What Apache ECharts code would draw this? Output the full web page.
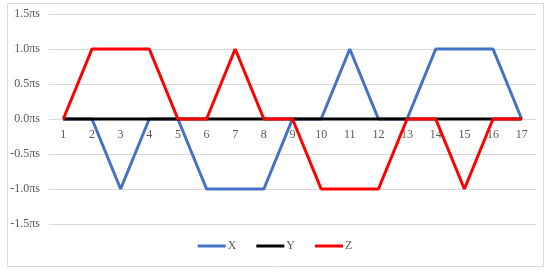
<!DOCTYPE html>
<html>
<head>
<meta charset="utf-8">
<script src="https://cdn.jsdelivr.net/npm/echarts@6/dist/echarts.min.js"></script>
<style>html,body{margin:0;padding:0;background:#fff;}#c{width:550px;height:273px;}</style>
</head>
<body>
<div id="c"></div>
<script>
const categories = ['1','2','3','4','5','6','7','8','9','10','11','12','13','14','15','16','17'];
const seriesX = [0,0,-1,0,0,-1,-1,-1,0,0,1,0,0,1,1,1,0];
const seriesY = [0,0,0,0,0,0,0,0,0,0,0,0,0,0,0,0,0];
const seriesZ = [0,1,1,1,0,0,1,0,0,-1,-1,-1,0,0,-1,0,0];
const yTicks = [-1.5,-1.0,-0.5,0.0,0.5,1.0,1.5];

const chart = echarts.init(document.getElementById('c'), null, {renderer:'canvas'});
const font = 'Liberation Serif';
const mk = (name, data, color) => ({
  name, type:'line', data, symbol:'none', showSymbol:false, smooth:false,
  lineStyle:{color, width:3}, itemStyle:{color}, animation:false
});
chart.setOption({
  animation:false,
  graphic:[{type:'rect', shape:{x:7.5,y:3.5,width:536,height:263}, style:{fill:'none', stroke:'#d9d9d9', lineWidth:1}, z:-1}],
  grid:{left:49, right:14, top:14, bottom:49},
  legend:{
    bottom:16, left:'center', itemWidth:28, itemGap:20, itemHeight:3, icon:'rect',
    textStyle:{fontFamily:font, fontSize:12, color:'#595959', padding:[0,0,0,-3]},
    data:['X','Y','Z']
  },
  xAxis:{
    type:'category', data:categories, boundaryGap:true,
    offset:-105,
    axisLine:{onZero:false, show:false},
    axisTick:{show:false},
    axisLabel:{fontFamily:font, fontSize:12, color:'#595959', margin:10}
  },
  yAxis:{
    type:'value', min:yTicks[0], max:yTicks[yTicks.length-1], interval:0.5,
    axisLine:{show:false}, axisTick:{show:false},
    splitLine:{lineStyle:{color:'#d9d9d9', width:1}},
    axisLabel:{fontFamily:font, fontSize:12, color:'#595959', margin:9,
      formatter:v => v.toFixed(1)+'πs'}
  },
  series:[mk('X', seriesX, '#4472C4'), mk('Y', seriesY, '#000000'), mk('Z', seriesZ, '#FF0000')]
});
</script>
</body>
</html>
